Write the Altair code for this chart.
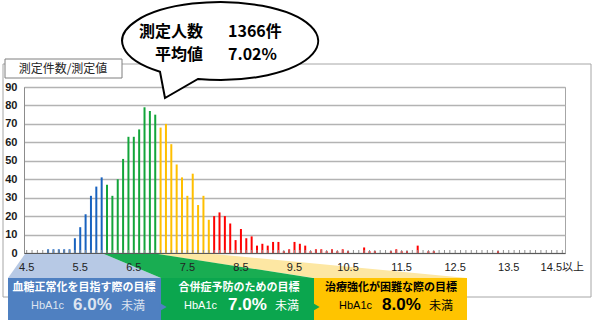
import altair as alt
import pandas as pd

# ---------------- data ----------------
categories = [f"{4.5 + 0.1 * i:.1f}" for i in range(100)] + ["14.5以上"]
counts = [
    0, 0, 0, 0, 2, 2, 2, 2, 2, 8, 14, 21, 31, 36, 41,          # 4.5 - 5.9
    37, 31, 40, 51, 63, 63, 67, 79, 77, 75,                     # 6.0 - 6.9
    68, 70, 59, 48, 41, 31, 43, 26, 31, 18,                     # 7.0 - 7.9
    20, 22, 20, 16, 7, 13, 8, 9, 4, 5,                          # 8.0 - 8.9
    4, 6, 6, 1, 2, 6, 5, 4, 1, 2,                               # 9.0 - 9.9
    2, 1, 2, 1, 2, 1, 0, 0, 3, 1,                               # 10.0 - 10.9
    1, 0, 0, 1, 2, 1, 1, 0, 4, 0,                               # 11.0 - 11.9
    1, 1, 0, 0, 0, 0, 0, 0, 0, 0,                               # 12.0 - 12.9
    0, 0, 0, 1, 0, 0, 0, 0, 0, 0,                               # 13.0 - 13.9
    0, 0, 0, 0, 0,                                              # 14.0 - 14.4
    0,                                                          # 14.5以上
]
tiers = ["blue"] * 15 + ["green"] * 10 + ["yellow"] * 10 + ["red"] * 66
tier_names = ["blue", "green", "yellow", "red"]
tier_colors = ["#1862bf", "#12a53a", "#ffbf00", "#ff0000"]
x_tick_labels = ["4.5", "5.5", "6.5", "7.5", "8.5", "9.5", "10.5", "11.5", "12.5", "13.5", "14.5以上"]
y_ticks = [0, 10, 20, 30, 40, 50, 60, 70, 80, 90]

df = pd.DataFrame({"cat": categories, "n": counts, "tier": tiers})

# ---------------- layout ----------------
W, H = 541, 166
L, T = 24, 87
TOTAL_W, TOTAL_H = 596, 320


def X(px):
    return px - L


def Y(py):
    return py - T


ONE = alt.Data(values=[{"a": 1}])
JP = "Noto Sans CJK JP"
LAT = "Liberation Sans, Noto Sans CJK JP"


def text(t, x, y, size=11, weight="normal", color="#000000", align="left", font=JP):
    return alt.Chart(ONE).mark_text(
        text=t, fontSize=size, fontWeight=weight, color=color, align=align,
        baseline="middle", font=font
    ).encode(x=alt.value(X(x)), y=alt.value(Y(y)))


def rect(x1, y1, x2, y2, fill=None, stroke=None, sw=1):
    kw = {}
    if fill is not None:
        kw["fill"] = fill
    else:
        kw["fillOpacity"] = 0
        kw["fill"] = "#ffffff"
    if stroke is not None:
        kw["stroke"] = stroke
        kw["strokeWidth"] = sw
    return alt.Chart(ONE).mark_rect(**kw).encode(
        x=alt.value(X(x1)), x2=alt.value(X(x2)), y=alt.value(Y(y1)), y2=alt.value(Y(y2))
    )


def poly(points, fill):
    # custom symbol path in pixel units (size 4 -> scale 1), anchored at plot origin
    d = "M " + " L ".join(f"{X(px)} {Y(py)}" for px, py in points) + " Z"
    return alt.Chart(ONE).mark_point(
        shape=d, size=4, filled=True, fill=fill, opacity=1, strokeWidth=0
    ).encode(x=alt.value(0), y=alt.value(0))


# outer chart frame and y-title box
frame = rect(3, 64, 591, 297, stroke="#a6a6a6")
ybox = rect(5, 59, 122, 78, fill="#ffffff", stroke="#7f7f7f")
ytitle = text("測定件数/測定値", 63, 68.5, size=12, color="#262626", align="center")

# wedges from axis to the target boxes
w_yellow = poly([(157, 254), (214, 254), (467, 278), (314, 278)], "#fde7a3")
w_blue = poly([(25, 254), (104, 254), (161, 278), (8, 278)], "#b7c9e5")
w_green = poly([(104, 254), (158, 254), (313, 278), (161, 278)], "#19ad52")

# bars
bars = alt.Chart(df).mark_bar(size=2).encode(
    x=alt.X(
        "cat:N", sort=categories,
        scale=alt.Scale(paddingInner=0, paddingOuter=0),
        axis=alt.Axis(
            values=x_tick_labels, title=None, labelAngle=0, ticks=False,
            domainColor="#595959", domainWidth=1, labelFont=LAT, labelFontSize=11,
            labelColor="#222222", labelPadding=8, zindex=1,
        ),
    ),
    y=alt.Y(
        "n:Q", scale=alt.Scale(domain=[0, 90], nice=False),
        axis=alt.Axis(
            values=y_ticks, title=None, grid=True, gridColor="#b3b3b3", gridWidth=1.5,
            ticks=False, domainColor="#8c8c8c", labelPadding=7, labelFont=LAT,
            labelFontSize=11, labelFontWeight="bold", labelColor="#1a1a1a",
        ),
    ),
    color=alt.Color("tier:N", scale=alt.Scale(domain=tier_names, range=tier_colors), legend=None),
)

cat_ticks = alt.Chart(df).mark_rule(color="#8c8c8c", strokeWidth=1).encode(
    x=alt.X("cat:N", sort=categories),
    y=alt.value(H - 3), y2=alt.value(H),
)

# speech bubble (ellipse with tail), drawn in units of 100 px
bubble_path = "M -0.60 0.308 A 0.98 0.39 0 1 1 -0.22 0.38 L -0.55 0.57 Z"
bubble = alt.Chart(ONE).mark_point(
    shape=bubble_path, size=40000, filled=True, fill="#ffffff", stroke="#000000",
    strokeWidth=2, opacity=1
).encode(x=alt.value(X(220)), y=alt.value(Y(41)))

b1 = text("測定人数", 203, 32, size=16, weight="bold", align="right")
b2 = text("1366件", 228, 32, size=16, weight="bold", align="left")
b3 = text("平均値", 203, 55, size=16, weight="bold", align="right")
b4 = text("7.02%", 228, 55, size=16, weight="bold", align="left")

# target boxes
box_blue = rect(8, 278, 161, 322, fill="#4f80c1")
box_green = rect(161, 278, 314, 322, fill="#0ba64e")
box_yellow = rect(314, 278, 467, 322, fill="#ffc400")
chev1 = alt.Chart(ONE).mark_point(shape="triangle-right", size=70, filled=True, fill="#4f80c1", opacity=1).encode(
    x=alt.value(X(163)), y=alt.value(Y(307)))
chev2 = alt.Chart(ONE).mark_point(shape="triangle-right", size=70, filled=True, fill="#0ba64e", opacity=1).encode(
    x=alt.value(X(316)), y=alt.value(Y(307)))

t_blue1 = text("血糖正常化を目指す際の目標", 84, 288, size=11, weight="bold", color="#ffffff", align="center")
t_blue2 = text("HbA1c", 31, 306, size=11, color="#dde4f0", font=LAT)
t_blue3 = text("6.0%", 73, 305, size=17, weight="bold", color="#dde4f0", font=LAT)
t_blue4 = text("未満", 121, 306, size=12, color="#dde4f0")

t_green1 = text("合併症予防のための目標", 239, 288, size=11, weight="bold", color="#ffffff", align="center")
t_green2 = text("HbA1c", 184, 306, size=11, color="#ffffff", font=LAT)
t_green3 = text("7.0%", 228, 305, size=17, weight="bold", color="#ffffff", font=LAT)
t_green4 = text("未満", 275, 306, size=12, color="#ffffff")

t_y1 = text("治療強化が困難な際の目標", 391, 288, size=11, weight="bold", color="#000000", align="center")
t_y2 = text("HbA1c", 339, 306, size=11, color="#000000", font=LAT)
t_y3 = text("8.0%", 382, 305, size=17, weight="bold", color="#000000", font=LAT)
t_y4 = text("未満", 429, 306, size=12, color="#000000")

chart = alt.layer(
    frame, w_yellow, w_blue, w_green, bars, cat_ticks,
    ybox, ytitle, bubble, b1, b2, b3, b4,
    box_blue, box_green, box_yellow, chev1, chev2,
    t_blue1, t_blue2, t_blue3, t_blue4,
    t_green1, t_green2, t_green3, t_green4,
    t_y1, t_y2, t_y3, t_y4,
).properties(
    width=W, height=H,
    padding={"left": L, "top": T, "right": TOTAL_W - L - W, "bottom": TOTAL_H - T - H},
    autosize=alt.AutoSizeParams(type="none"),
    background="#ffffff",
).configure_view(stroke="#a6a6a6", strokeWidth=1)

chart.save("out.html", embed_options={"renderer": "svg", "actions": False})
